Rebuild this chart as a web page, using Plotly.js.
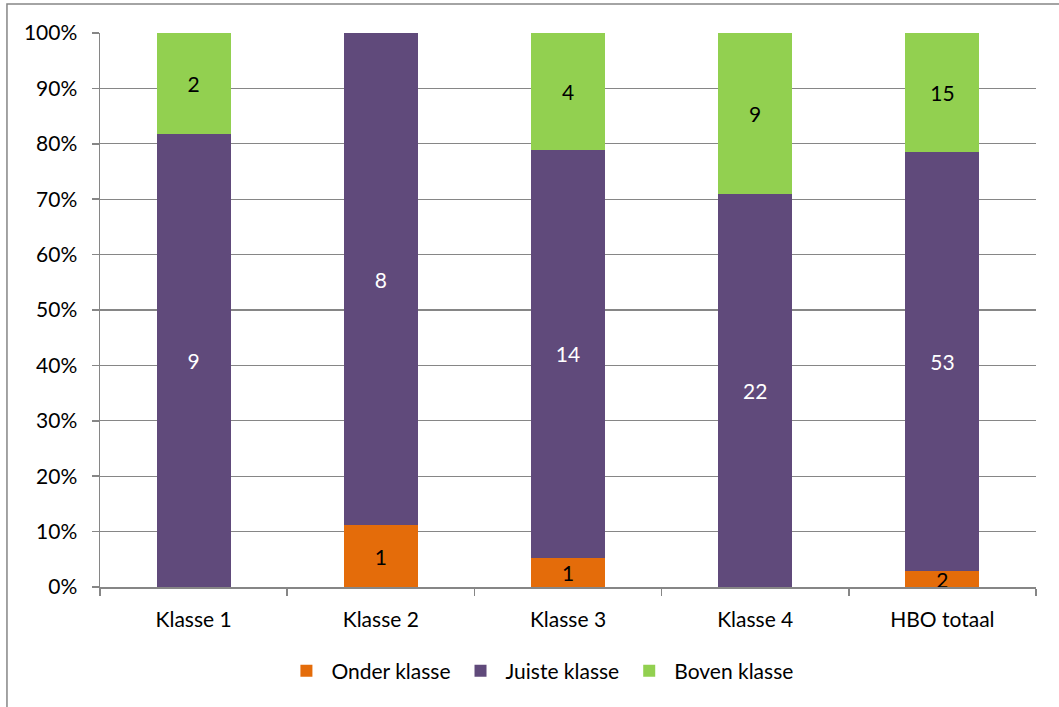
<!DOCTYPE html>
<html>
<head>
<meta charset="utf-8">
<script src="https://cdn.plot.ly/plotly-3.0.1.min.js"></script>
<style>html,body{margin:0;padding:0;background:#fff}#chart{width:1059px;height:707px}</style>
</head>
<body>
<div id="chart"></div>
<script>
const categories = ['Klasse 1', 'Klasse 2', 'Klasse 3', 'Klasse 4', 'HBO totaal'];
const onderKlasse = [0, 1, 1, 0, 2];
const juisteKlasse = [9, 8, 14, 22, 53];
const bovenKlasse = [2, 0, 4, 9, 15];
const seriesNames = ['Onder klasse', 'Juiste klasse', 'Boven klasse'];
const yTickVals = [0, 10, 20, 30, 40, 50, 60, 70, 80, 90, 100];
const yTickText = yTickVals.map(v => v + '%');

const FONT = 'Lato, "Open Sans", sans-serif';
const FS = 21;
function mk(name, vals, color, txtColor) {
  return {
    type: 'bar', name: name, x: categories, y: vals,
    marker: {color: color},
    text: vals.map(v => v ? String(v) : ''),
    texttemplate: '%{text}',
    textposition: 'inside', insidetextanchor: 'middle', textangle: 0,
    constraintext: 'none',
    textfont: {family: FONT, size: FS, color: txtColor},
    hoverinfo: 'none'
  };
}
const data = [
  mk(seriesNames[0], onderKlasse, '#E46C0A', '#000000'),
  mk(seriesNames[1], juisteKlasse, '#604A7B', '#FFFFFF'),
  mk(seriesNames[2], bovenKlasse, '#92D050', '#000000')
];
const layout = {
  width: 1059, height: 707,
  margin: {l: 100, r: 23, t: 33, b: 120, pad: 0},
  barmode: 'stack', barnorm: 'percent', bargap: 0.605,
  paper_bgcolor: '#fff', plot_bgcolor: '#fff',
  font: {family: FONT, size: FS, color: '#000'},
  showlegend: true,
  legend: {orientation: 'h', x: 0.47, xanchor: 'center', y: -0.1516, yanchor: 'middle',
           font: {family: FONT, size: FS, color: '#000'}, traceorder: 'normal', itemwidth: 40},
  xaxis: {type: 'category', showline: true, linecolor: '#868686', linewidth: 1.5,
          ticks: 'outside', tickson: 'boundaries', ticklen: 7, tickcolor: '#868686', tickwidth: 1.5,
          showgrid: false, tickfont: {family: FONT, size: FS}, ticklabelstandoff: 13},
  yaxis: {range: [0, 100], tickvals: yTickVals, ticktext: yTickText, showline: true,
          linecolor: '#868686', linewidth: 1.5, ticks: 'outside', ticklen: 7, tickcolor: '#868686', tickwidth: 1.5,
          showgrid: true, gridcolor: '#868686', gridwidth: 1.2, zeroline: false,
          tickfont: {family: FONT, size: FS}, ticklabelstandoff: 10},
  shapes: [{type: 'rect', xref: 'paper', yref: 'paper', x0: -0.0994, x1: 1.03, y0: -0.23, y1: 1.0523,
            line: {color: '#868686', width: 1.5}, layer: 'below'}]
};
Plotly.newPlot('chart', data, layout, {displayModeBar: false, staticPlot: true});
</script>
</body>
</html>
